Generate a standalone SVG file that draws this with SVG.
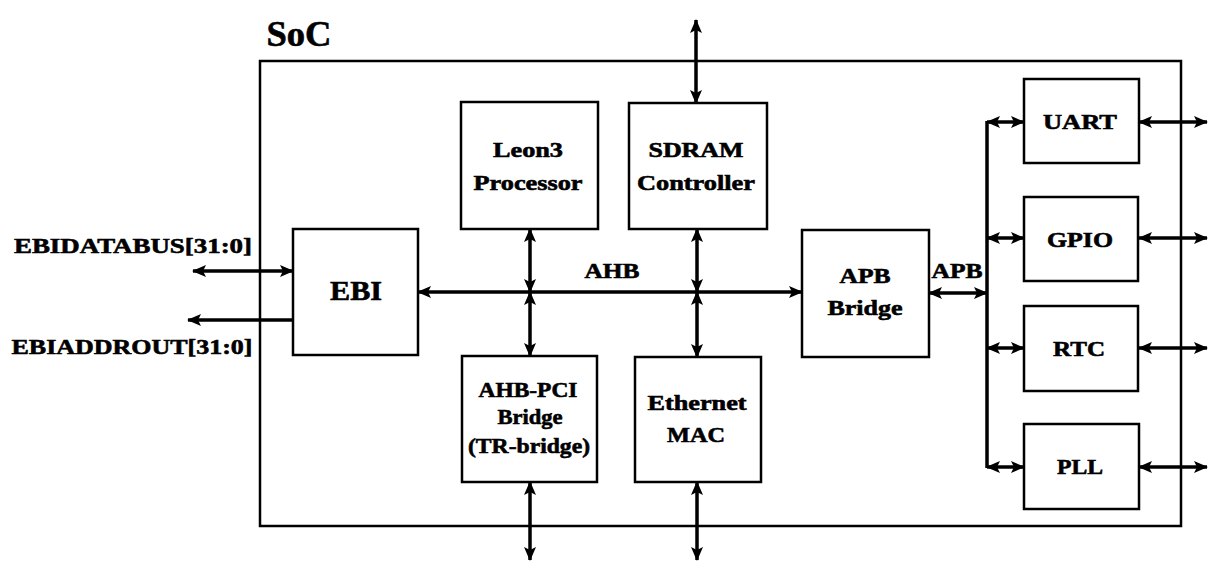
<svg xmlns="http://www.w3.org/2000/svg" width="1209" height="563" viewBox="0 0 1209 563">
<style>
.box{fill:#fff;stroke:#000;stroke-width:2.5}
.t{font-family:"Liberation Serif","Times New Roman",serif;font-weight:bold;fill:#000;stroke:#000;stroke-width:0.6;text-anchor:middle}
.s{font-size:22px}
.w{stroke:#000;stroke-width:3.5;fill:none}
.d{marker-start:url(#ah);marker-end:url(#ah)}
.e{marker-end:url(#ah)}
</style>
<defs>
<marker id="ah" markerUnits="userSpaceOnUse" markerWidth="14" markerHeight="12" refX="13" refY="6" orient="auto-start-reverse">
<path d="M0,0 L14,6 L0,12 L3,6 z" fill="#000"/>
</marker>
</defs>
<rect width="1209" height="563" fill="#fff"/>
<g id="soc">
<rect x="260" y="61" width="921" height="465" fill="none" stroke="#000" stroke-width="2.5"/>
<text class="t" x="299" y="46" font-size="35" textLength="65" lengthAdjust="spacingAndGlyphs">SoC</text>
</g>
<g id="connectors">
<line class="w d" x1="193" y1="271" x2="293" y2="271"/>
<line class="w e" x1="293" y1="320" x2="188" y2="320"/>
<line class="w d" x1="418" y1="292" x2="802" y2="292"/>
<line class="w d" x1="530" y1="229" x2="530" y2="292"/>
<line class="w d" x1="697" y1="229" x2="697" y2="292"/>
<line class="w d" x1="530" y1="292" x2="530" y2="356"/>
<line class="w d" x1="697" y1="292" x2="697" y2="357"/>
<line class="w d" x1="696" y1="20" x2="696" y2="103"/>
<line class="w d" x1="530" y1="482" x2="530" y2="560"/>
<line class="w d" x1="697" y1="482" x2="697" y2="560"/>
<line class="w d" x1="929" y1="293" x2="987" y2="293"/>
<line class="w" x1="987" y1="121" x2="987" y2="468"/>
<line class="w d" x1="987" y1="122" x2="1024" y2="122"/>
<line class="w d" x1="987" y1="238" x2="1024" y2="238"/>
<line class="w d" x1="987" y1="348" x2="1024" y2="348"/>
<line class="w d" x1="987" y1="467" x2="1024" y2="467"/>
<line class="w d" x1="1139" y1="122" x2="1207" y2="122"/>
<line class="w d" x1="1139" y1="238" x2="1207" y2="238"/>
<line class="w d" x1="1139" y1="348" x2="1207" y2="348"/>
<line class="w d" x1="1139" y1="467" x2="1207" y2="467"/>
<text class="t s" x="133" y="253" textLength="238" lengthAdjust="spacingAndGlyphs">EBIDATABUS[31:0]</text>
<text class="t s" x="132" y="354" textLength="241" lengthAdjust="spacingAndGlyphs">EBIADDROUT[31:0]</text>
<text class="t s" x="612" y="278" textLength="55" lengthAdjust="spacingAndGlyphs">AHB</text>
<text class="t s" x="957" y="278" textLength="51" lengthAdjust="spacingAndGlyphs">APB</text>
</g>
<g id="ebi">
<rect class="box" x="293" y="229" width="125" height="126"/>
<text class="t" x="356" y="300" font-size="27" textLength="52" lengthAdjust="spacingAndGlyphs">EBI</text>
</g>
<g id="leon3">
<rect class="box" x="461" y="102" width="137" height="127"/>
<text class="t s" x="528" y="157" textLength="70" lengthAdjust="spacingAndGlyphs">Leon3</text>
<text class="t s" x="528" y="190" textLength="109" lengthAdjust="spacingAndGlyphs">Processor</text>
</g>
<g id="sdram">
<rect class="box" x="629" y="103" width="138" height="126"/>
<text class="t s" x="696" y="157" textLength="95" lengthAdjust="spacingAndGlyphs">SDRAM</text>
<text class="t s" x="696" y="190" textLength="118" lengthAdjust="spacingAndGlyphs">Controller</text>
</g>
<g id="ahbpci">
<rect class="box" x="462" y="356" width="135" height="126"/>
<text class="t s" x="528" y="397" textLength="99" lengthAdjust="spacingAndGlyphs">AHB-PCI</text>
<text class="t s" x="530" y="424" textLength="65" lengthAdjust="spacingAndGlyphs">Bridge</text>
<text class="t s" x="529" y="453" textLength="122" lengthAdjust="spacingAndGlyphs">(TR-bridge)</text>
</g>
<g id="ethernet">
<rect class="box" x="635" y="357" width="126" height="125"/>
<text class="t s" x="697" y="410" textLength="99" lengthAdjust="spacingAndGlyphs">Ethernet</text>
<text class="t s" x="696" y="442" textLength="58" lengthAdjust="spacingAndGlyphs">MAC</text>
</g>
<g id="apbbridge">
<rect class="box" x="802" y="230" width="127" height="127"/>
<text class="t s" x="865" y="283" textLength="51" lengthAdjust="spacingAndGlyphs">APB</text>
<text class="t s" x="865" y="315" textLength="75" lengthAdjust="spacingAndGlyphs">Bridge</text>
</g>
<g id="uart">
<rect class="box" x="1024" y="79" width="115" height="84"/>
<text class="t s" x="1080" y="129" textLength="74" lengthAdjust="spacingAndGlyphs">UART</text>
</g>
<g id="gpio">
<rect class="box" x="1024" y="197" width="114" height="84"/>
<text class="t s" x="1080" y="247" textLength="66" lengthAdjust="spacingAndGlyphs">GPIO</text>
</g>
<g id="rtc">
<rect class="box" x="1024" y="306" width="114" height="85"/>
<text class="t s" x="1079" y="356" textLength="52" lengthAdjust="spacingAndGlyphs">RTC</text>
</g>
<g id="pll">
<rect class="box" x="1024" y="424" width="115" height="85"/>
<text class="t s" x="1080" y="474" textLength="46" lengthAdjust="spacingAndGlyphs">PLL</text>
</g>
</svg>
